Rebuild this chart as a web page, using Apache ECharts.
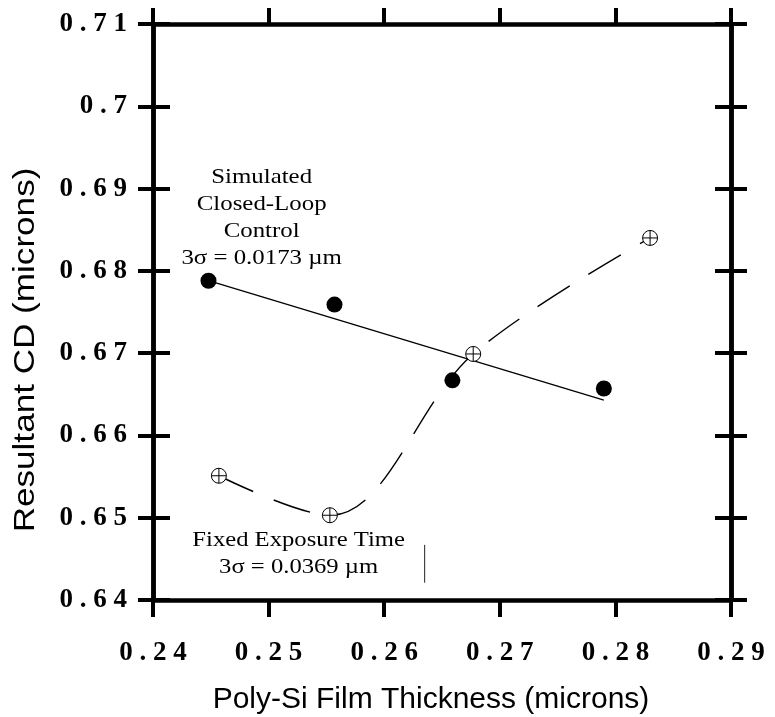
<!DOCTYPE html>
<html><head><meta charset="utf-8">
<script src="https://cdn.jsdelivr.net/npm/echarts@6/dist/echarts.min.js"></script>
<style>html,body{margin:0;padding:0;background:#fff}#c{width:775px;height:717px}</style>
</head><body><div id="c"></div>
<script>
// ---- data ----
const xMin = 0.24, xMax = 0.29, xStep = 0.01;
const yMin = 0.64, yMax = 0.71, yStep = 0.01;
const closedLoopX = [0.2448, 0.2557, 0.2659, 0.2790];
const closedLoopY = [0.6788, 0.6759, 0.6667, 0.6657];
const fitLineX = [0.2448, 0.2790];
const fitLineY = [0.6788, 0.6643];
const fixedX = [0.2457, 0.2553, 0.2677, 0.2830];
const fixedY = [0.6551, 0.6503, 0.6699, 0.6840];
const strayMarkX = [0.2635, 0.2635];
const strayMarkY = [0.6467, 0.6421];
const xTitle = 'Poly-Si Film Thickness (microns)';
const yTitle = 'Resultant CD (microns)';
const closedLoopNote = ['Simulated', 'Closed-Loop', 'Control', '3σ = 0.0173 µm'];
const closedLoopNoteAt = [0.2494, 0.6865];
const fixedNote = ['Fixed Exposure Time', '3σ = 0.0369 µm'];
const fixedNoteAt = [0.2526, 0.6456];

const pair = (xs, ys) => xs.map((x, i) => [x, ys[i]]);
const tickFmt = v => String(+v.toFixed(2)).split('').join(' ');
const labelFont = { fontFamily: 'Liberation Serif', fontWeight: 'bold', fontSize: 27, color: '#000' };
const axisLineStyle = { show: true, lineStyle: { color: '#000', width: 4.5 } };
function valAxis(extra, isX) {
  return Object.assign({
    type: 'value',
    min: isX ? xMin : yMin, max: isX ? xMax : yMax, interval: isX ? xStep : yStep,
    splitLine: { show: false },
    axisLine: axisLineStyle,
    axisLabel: { show: false },
    axisTick: { show: true, lineStyle: { color: '#000', width: 4 } }
  }, extra);
}
const crossPath = 'path://M0,-10A10,10,0,1,1,0,10A10,10,0,1,1,0,-10ZM-10,0L10,0M0,-10L0,10';

const chart = echarts.init(document.getElementById('c'), null, { renderer: 'canvas' });
chart.setOption({
  animation: false,
  backgroundColor: '#fff',
  grid: { left: 153, top: 24, width: 578, height: 576, containLabel: false, outerBoundsMode: 'none' },
  xAxis: [
    valAxis({ position: 'bottom',
      axisTick: { show: true, length: 17, inside: false, lineStyle: { color: '#000', width: 4 } },
      axisLabel: Object.assign({ show: true, margin: 40, formatter: tickFmt }, labelFont),
      name: xTitle, nameLocation: 'middle', nameGap: 85,
      nameTextStyle: { fontFamily: 'Liberation Sans', fontSize: 30, color: '#000', padding: [0, 22, 0, 0] }
    }, true),
    valAxis({ position: 'top',
      axisTick: { show: true, length: 16, inside: false, lineStyle: { color: '#000', width: 4 } } }, true)
  ],
  yAxis: [
    valAxis({ position: 'left',
      axisTick: { show: true, length: 15, inside: false, lineStyle: { color: '#000', width: 4 } },
      axisLabel: Object.assign({ show: true, margin: 26, formatter: tickFmt }, labelFont) }, false),
    valAxis({ position: 'left',
      axisTick: { show: true, length: 17, inside: true, lineStyle: { color: '#000', width: 4 } } }, false),
    valAxis({ position: 'right',
      axisTick: { show: true, length: 16, inside: false, lineStyle: { color: '#000', width: 4 } } }, false),
    valAxis({ position: 'right',
      axisTick: { show: true, length: 16, inside: true, lineStyle: { color: '#000', width: 4 } } }, false)
  ],
  series: [
    { name: 'Closed-loop fit', type: 'line', data: pair(fitLineX, fitLineY), showSymbol: false, symbol: 'none',
      lineStyle: { color: '#000', width: 1.3 }, z: 2 },
    { name: 'Fixed Exposure Time', type: 'line', data: pair(fixedX, fixedY), smooth: 0.35,
      symbol: crossPath, symbolSize: 15, symbolKeepAspect: true, showAllSymbol: true,
      itemStyle: { color: '#fff', borderColor: '#000', borderWidth: 1, opacity: 1 },
      lineStyle: { color: '#000', width: 1.4, type: [38, 22] }, z: 3 },
    { name: 'Simulated Closed-Loop Control', type: 'scatter', data: pair(closedLoopX, closedLoopY),
      symbol: 'circle', symbolSize: 16, itemStyle: { color: '#000', opacity: 1 }, z: 4 },
    { name: 'stray mark', type: 'line', data: pair(strayMarkX, strayMarkY), symbol: 'none',
      lineStyle: { color: '#222', width: 1 }, z: 1 }
  ]
});

const p1 = chart.convertToPixel({ xAxisIndex: 0, yAxisIndex: 0 }, closedLoopNoteAt);
const p2 = chart.convertToPixel({ xAxisIndex: 0, yAxisIndex: 0 }, fixedNoteAt);
const noteStyle = (lines) => ({ text: lines.join('\n'), font: '22px "Liberation Serif"', fill: '#000',
  textAlign: 'center', textVerticalAlign: 'middle', lineHeight: 27 });
chart.setOption({
  graphic: [
    { type: 'text', x: p1[0], y: p1[1], scaleX: 1.13, style: noteStyle(closedLoopNote), z: 10 },
    { type: 'text', x: p2[0], y: p2[1], scaleX: 1.12, style: noteStyle(fixedNote), z: 10 },
    { type: 'text', x: 26, y: 350, rotation: Math.PI / 2, scaleX: 1.17, scaleY: 1,
      style: { text: yTitle, font: '30px "Liberation Sans"', fill: '#000', textAlign: 'center', textVerticalAlign: 'middle' } }
  ]
});
</script></body></html>
